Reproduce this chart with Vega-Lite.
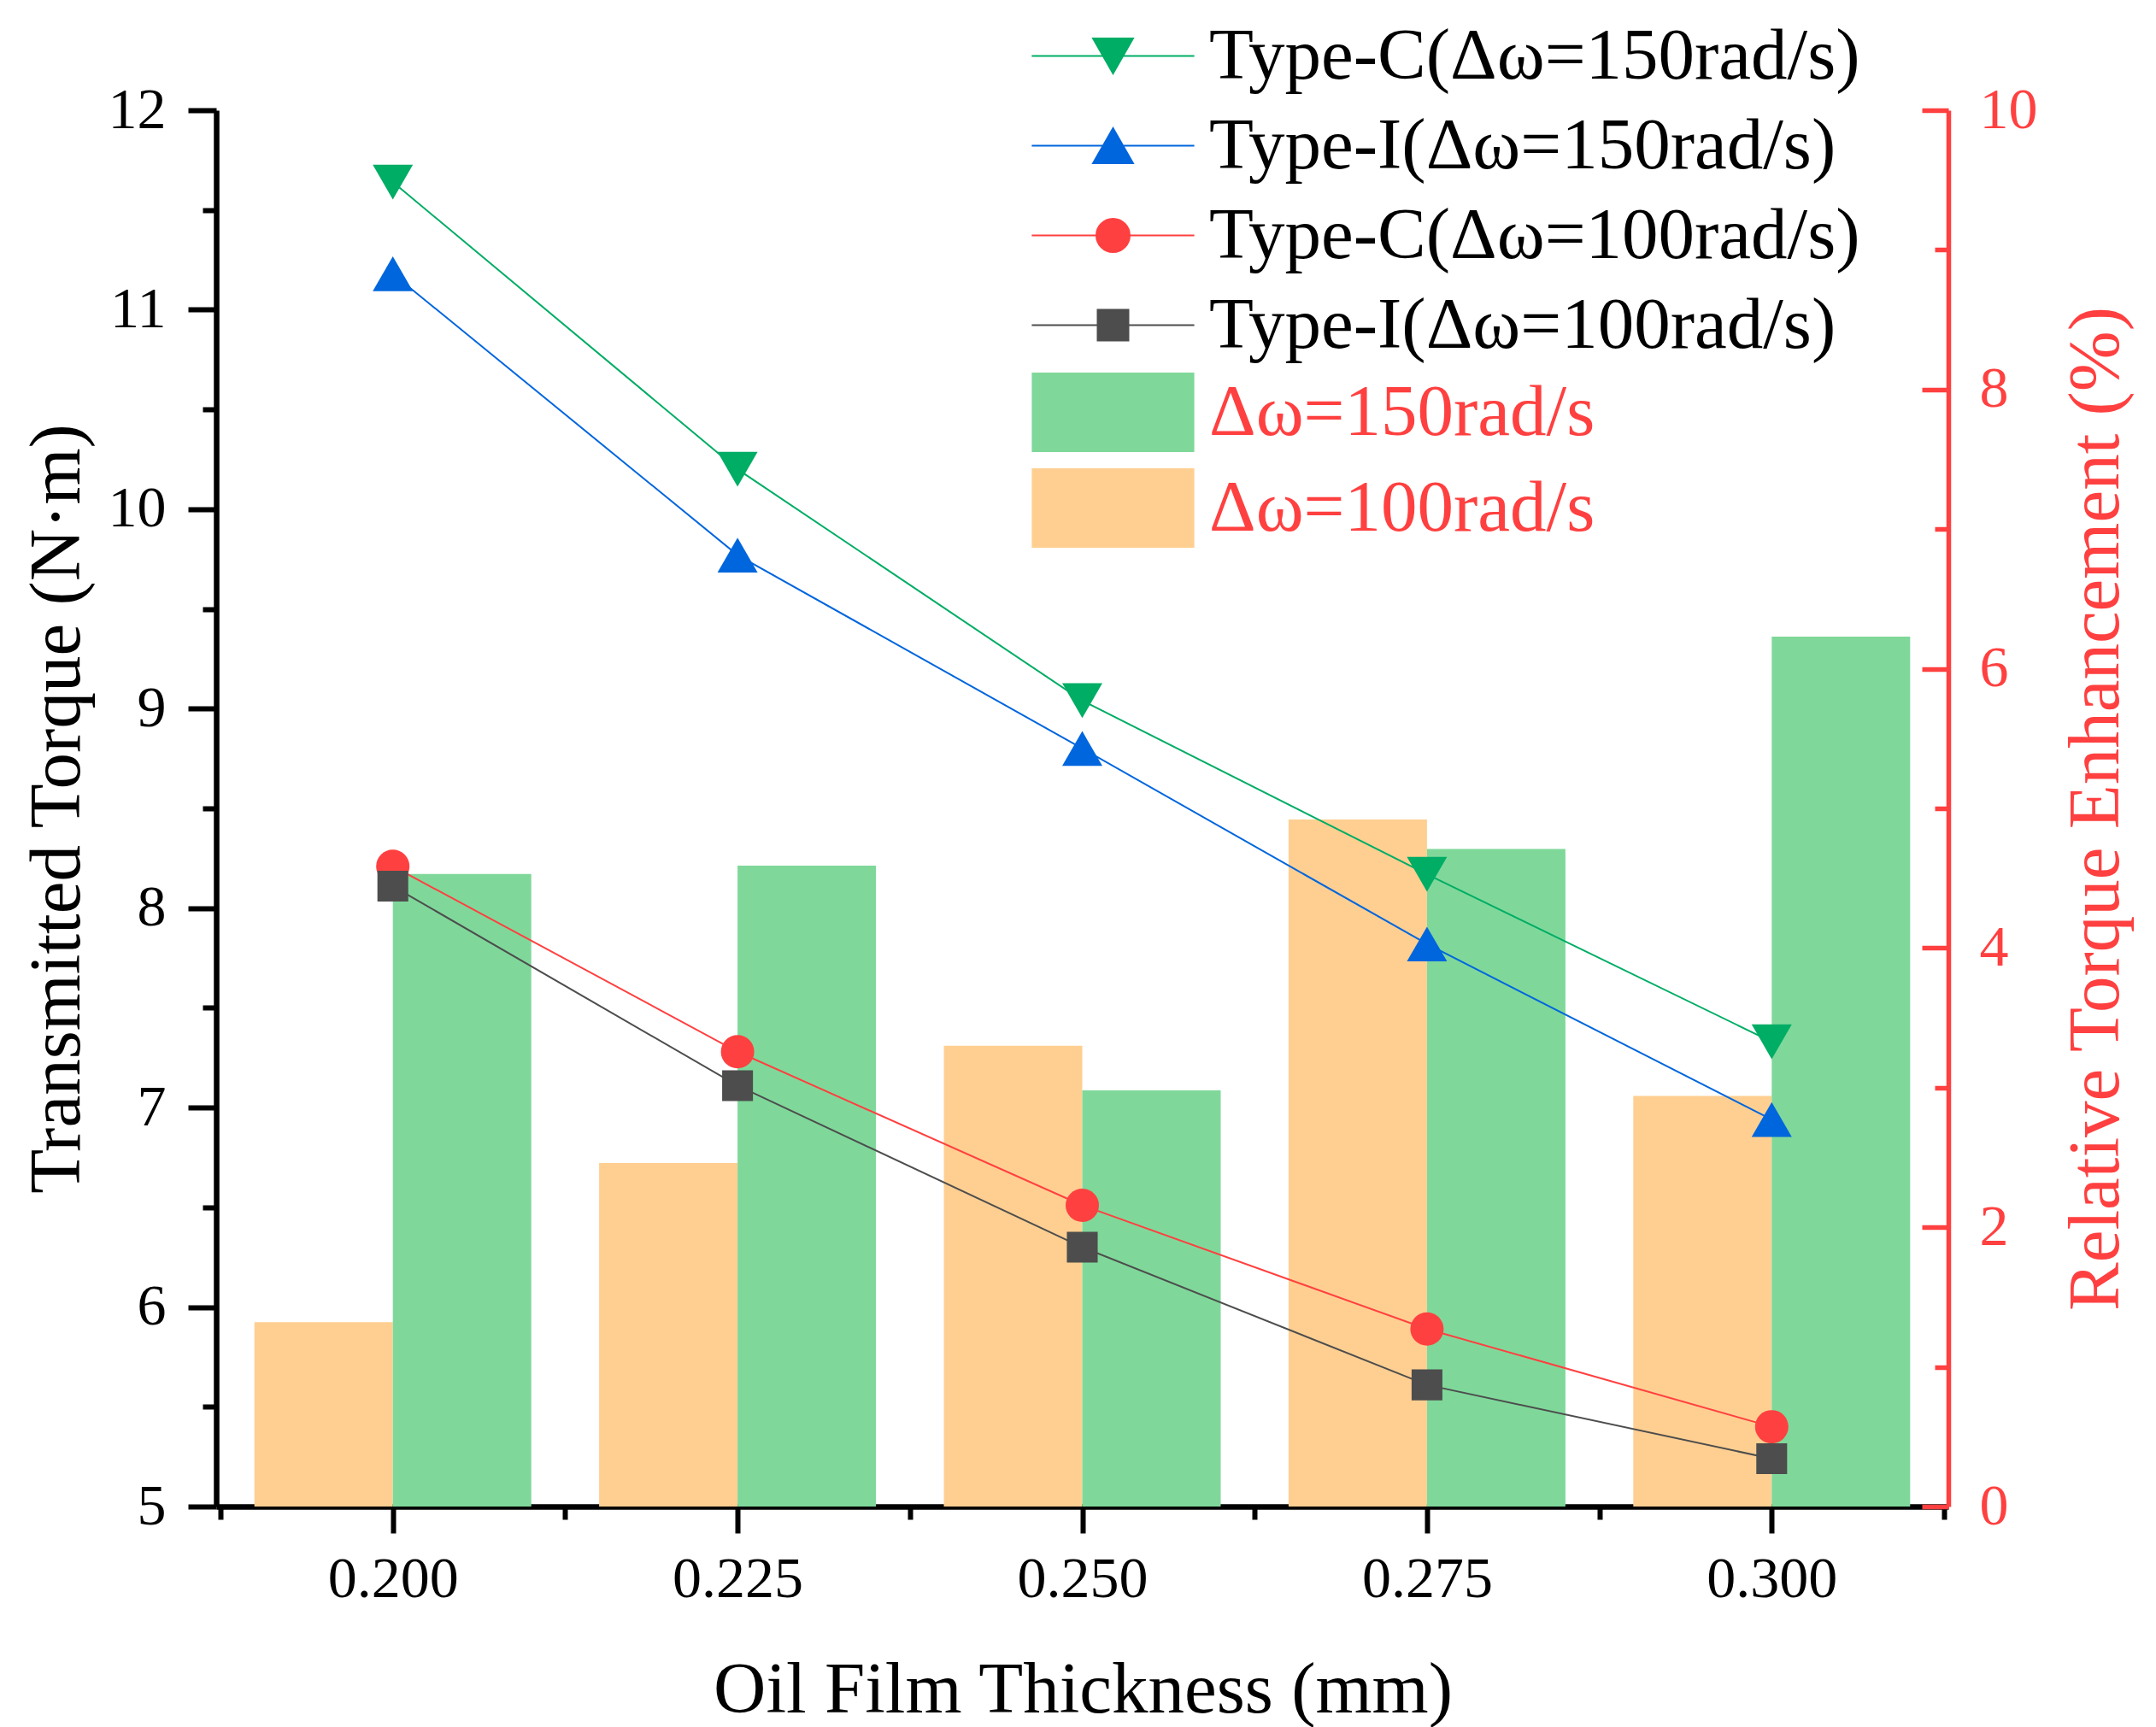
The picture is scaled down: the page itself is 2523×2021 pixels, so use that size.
{
  "$schema": "https://vega.github.io/schema/vega-lite/v6.json",
  "background": "white",
  "autosize": "none",
  "width": 2027,
  "height": 1634,
  "padding": {"left": 253, "top": 129, "right": 243, "bottom": 258},
  "datasets": {
    "bars": [
      {"thickness": 0.2, "speed": "Δω=100rad/s", "enhancement": 1.32},
      {"thickness": 0.225, "speed": "Δω=100rad/s", "enhancement": 2.46},
      {"thickness": 0.25, "speed": "Δω=100rad/s", "enhancement": 3.3},
      {"thickness": 0.275, "speed": "Δω=100rad/s", "enhancement": 4.92},
      {"thickness": 0.3, "speed": "Δω=100rad/s", "enhancement": 2.94},
      {"thickness": 0.2, "speed": "Δω=150rad/s", "enhancement": 4.53},
      {"thickness": 0.225, "speed": "Δω=150rad/s", "enhancement": 4.59},
      {"thickness": 0.25, "speed": "Δω=150rad/s", "enhancement": 2.98},
      {"thickness": 0.275, "speed": "Δω=150rad/s", "enhancement": 4.71},
      {"thickness": 0.3, "speed": "Δω=150rad/s", "enhancement": 6.23}
    ],
    "torque": [
      {"thickness": 0.2, "series": "Type-C(Δω=150rad/s)", "torque": 11.64},
      {"thickness": 0.225, "series": "Type-C(Δω=150rad/s)", "torque": 10.2},
      {"thickness": 0.25, "series": "Type-C(Δω=150rad/s)", "torque": 9.04},
      {"thickness": 0.275, "series": "Type-C(Δω=150rad/s)", "torque": 8.17},
      {"thickness": 0.3, "series": "Type-C(Δω=150rad/s)", "torque": 7.33},
      {"thickness": 0.2, "series": "Type-I(Δω=150rad/s)", "torque": 11.18},
      {"thickness": 0.225, "series": "Type-I(Δω=150rad/s)", "torque": 9.77},
      {"thickness": 0.25, "series": "Type-I(Δω=150rad/s)", "torque": 8.8},
      {"thickness": 0.275, "series": "Type-I(Δω=150rad/s)", "torque": 7.82},
      {"thickness": 0.3, "series": "Type-I(Δω=150rad/s)", "torque": 6.94},
      {"thickness": 0.2, "series": "Type-C(Δω=100rad/s)", "torque": 8.21},
      {"thickness": 0.225, "series": "Type-C(Δω=100rad/s)", "torque": 7.28},
      {"thickness": 0.25, "series": "Type-C(Δω=100rad/s)", "torque": 6.51},
      {"thickness": 0.275, "series": "Type-C(Δω=100rad/s)", "torque": 5.89},
      {"thickness": 0.3, "series": "Type-C(Δω=100rad/s)", "torque": 5.4},
      {"thickness": 0.2, "series": "Type-I(Δω=100rad/s)", "torque": 8.11},
      {"thickness": 0.225, "series": "Type-I(Δω=100rad/s)", "torque": 7.11},
      {"thickness": 0.25, "series": "Type-I(Δω=100rad/s)", "torque": 6.3},
      {"thickness": 0.275, "series": "Type-I(Δω=100rad/s)", "torque": 5.61},
      {"thickness": 0.3, "series": "Type-I(Δω=100rad/s)", "torque": 5.24}
    ]
  },
  "layer": [
    {
      "data": {"name": "bars"},
      "transform": [{"filter": "datum.speed == 'Δω=100rad/s'"}],
      "mark": {"type": "bar", "orient": "vertical", "width": 162, "xOffset": -81},
      "encoding": {
        "x": {
          "field": "thickness", "type": "quantitative",
          "scale": {"domain": [0.1875, 0.3125], "nice": false, "zero": false},
          "axis": {
            "orient": "bottom",
            "title": "Oil Film Thickness (mm)",
            "values": [0.1875, 0.2, 0.2125, 0.225, 0.2375, 0.25, 0.2625, 0.275, 0.2875, 0.3, 0.3125],
            "labelExpr": "round(datum.value*80) % 2 == 1 ? '' : format(datum.value, '.3f')",
            "tickSize": {"condition": {"test": "round(datum.value*80) % 2 == 1", "value": 15}, "value": 31},
            "tickWidth": 6,
            "domainWidth": 6.5,
            "labelPadding": 20,
            "titleX": 1014,
            "titleY": 240,
            "titleBaseline": "alphabetic"
          }
        },
        "y": {
          "field": "enhancement", "type": "quantitative",
          "scale": {"domain": [0, 10], "nice": false},
          "axis": {
            "orient": "right",
            "title": "Relative Torque Enhancement (%)",
            "values": [0, 1, 2, 3, 4, 5, 6, 7, 8, 9, 10],
            "labelExpr": "datum.value % 2 == 1 ? '' : datum.label",
            "tickSize": {"condition": {"test": "datum.value % 2 == 1", "value": -16}, "value": -31},
            "tickWidth": 5.5,
            "domainWidth": 5.5,
            "labelPadding": 67,
            "domainColor": "#FF4040",
            "tickColor": "#FF4040",
            "labelColor": "#FF4040",
            "titleColor": "#FF4040",
            "titleAngle": 270,
            "titleX": 198,
            "titleY": 817,
            "titleAlign": "center",
            "titleBaseline": "alphabetic"
          }
        },
        "fill": {
          "field": "speed", "type": "nominal",
          "scale": {"domain": ["Δω=150rad/s", "Δω=100rad/s"], "range": ["#7FD89A", "#FFCF91"]},
          "legend": {
            "orient": "none",
            "legendX": 1007,
            "legendY": 311,
            "title": null,
            "padding": 0,
            "rowPadding": 19,
            "symbolSize": 3600,
            "labelOffset": 70,
            "labelColor": "#FF4040",
            "labelFontSize": 85,
            "labelFont": "Liberation Serif",
            "labelLimit": 1500,
            "symbolType": "M-3.17,-1.55H3.17V1.55H-3.17Z",
            "symbolStrokeWidth": 0
          }
        }
      }
    },
    {
      "data": {"name": "bars"},
      "transform": [{"filter": "datum.speed == 'Δω=150rad/s'"}],
      "mark": {"type": "bar", "orient": "vertical", "width": 162, "xOffset": 81},
      "encoding": {
        "x": {"field": "thickness", "type": "quantitative"},
        "y": {"field": "enhancement", "type": "quantitative", "scale": {"domain": [0, 10], "nice": false}, "axis": null},
        "fill": {"field": "speed", "type": "nominal"}
      }
    },
    {
      "data": {"name": "torque"},
      "mark": {"type": "line", "strokeWidth": 2},
      "encoding": {
        "x": {"field": "thickness", "type": "quantitative"},
        "y": {
          "field": "torque", "type": "quantitative",
          "scale": {"domain": [5, 12], "nice": false, "zero": false},
          "axis": {
            "orient": "left",
            "title": "Transmitted Torque (N·m)",
            "values": [5, 5.5, 6, 6.5, 7, 7.5, 8, 8.5, 9, 9.5, 10, 10.5, 11, 11.5, 12],
            "labelExpr": "round(datum.value*2) % 2 == 1 ? '' : format(datum.value, 'd')",
            "tickSize": {"condition": {"test": "round(datum.value*2) % 2 == 1", "value": 16}, "value": 33},
            "tickWidth": 6,
            "domainWidth": 6.5,
            "labelPadding": 26,
            "titleAngle": 270,
            "titleX": -161,
            "titleY": 817,
            "titleAlign": "center",
            "titleBaseline": "alphabetic"
          }
        },
        "color": {
          "field": "series", "type": "nominal",
          "scale": {
            "domain": ["Type-C(Δω=150rad/s)", "Type-I(Δω=150rad/s)", "Type-C(Δω=100rad/s)", "Type-I(Δω=100rad/s)"],
            "range": ["#00AD65", "#0066DD", "#FF4040", "#4D4D4D"]
          },
          "legend": {
            "orient": "none",
            "legendX": 1007,
            "legendY": -106,
            "title": null,
            "padding": 0,
            "rowPadding": 19,
            "symbolSize": 3600,
            "symbolOpacity": 1,
            "labelOffset": 70,
            "labelColor": "black",
            "labelFontSize": 85,
            "labelFont": "Liberation Serif",
            "labelLimit": 1500,
            "symbolStrokeWidth": 2
          }
        }
      }
    },
    {
      "data": {"name": "torque"},
      "mark": {"type": "point", "filled": true, "opacity": 0},
      "encoding": {
        "x": {"field": "thickness", "type": "quantitative"},
        "y": {"field": "torque", "type": "quantitative", "scale": {"domain": [5, 12], "nice": false, "zero": false}, "axis": null},
        "color": {"field": "series", "type": "nominal", "legend": null},
        "shape": {
          "field": "series", "type": "nominal",
          "scale": {
            "domain": ["Type-C(Δω=150rad/s)", "Type-I(Δω=150rad/s)", "Type-C(Δω=100rad/s)", "Type-I(Δω=100rad/s)"],
            "range": [
              "M-3.17,0H3.17M-0.78,-0.68H0.78L0,0.68Z",
              "M-3.17,0H3.17M0,-0.68L0.78,0.68H-0.78Z",
              "M-3.17,0H3.17M0.65,0A0.65,0.65,0,1,1,-0.65,0A0.65,0.65,0,1,1,0.65,0Z",
              "M-3.17,0H3.17M-0.6,-0.6H0.6V0.6H-0.6Z"
            ]
          },
          "legend": null
        }
      }
    },
    {
      "data": {"name": "torque"},
      "transform": [{"filter": "datum.series == 'Type-C(Δω=150rad/s)'"}],
      "mark": {"type": "point", "filled": true, "opacity": 1, "strokeWidth": 0, "shape": "triangle-down", "size": 2209},
      "encoding": {
        "x": {"field": "thickness", "type": "quantitative"},
        "y": {"field": "torque", "type": "quantitative", "scale": {"domain": [5, 12], "nice": false, "zero": false}, "axis": null},
        "color": {"field": "series", "type": "nominal", "legend": null}
      }
    },
    {
      "data": {"name": "torque"},
      "transform": [{"filter": "datum.series == 'Type-I(Δω=150rad/s)'"}],
      "mark": {"type": "point", "filled": true, "opacity": 1, "strokeWidth": 0, "shape": "triangle-up", "size": 2209},
      "encoding": {
        "x": {"field": "thickness", "type": "quantitative"},
        "y": {"field": "torque", "type": "quantitative", "scale": {"domain": [5, 12], "nice": false, "zero": false}, "axis": null},
        "color": {"field": "series", "type": "nominal", "legend": null}
      }
    },
    {
      "data": {"name": "torque"},
      "transform": [{"filter": "datum.series == 'Type-C(Δω=100rad/s)'"}],
      "mark": {"type": "point", "filled": true, "opacity": 1, "strokeWidth": 0, "shape": "circle", "size": 1521},
      "encoding": {
        "x": {"field": "thickness", "type": "quantitative"},
        "y": {"field": "torque", "type": "quantitative", "scale": {"domain": [5, 12], "nice": false, "zero": false}, "axis": null},
        "color": {"field": "series", "type": "nominal", "legend": null}
      }
    },
    {
      "data": {"name": "torque"},
      "transform": [{"filter": "datum.series == 'Type-I(Δω=100rad/s)'"}],
      "mark": {"type": "point", "filled": true, "opacity": 1, "strokeWidth": 0, "shape": "square", "size": 1300},
      "encoding": {
        "x": {"field": "thickness", "type": "quantitative"},
        "y": {"field": "torque", "type": "quantitative", "scale": {"domain": [5, 12], "nice": false, "zero": false}, "axis": null},
        "color": {"field": "series", "type": "nominal", "legend": null}
      }
    }
  ],
  "resolve": {"scale": {"y": "independent"}},
  "config": {
    "view": {"stroke": null},
    "legend": {"symbolOpacity": 1},
    "axis": {
      "grid": false,
      "domainColor": "black",
      "domainWidth": 6.5,
      "tickColor": "black",
      "tickWidth": 6,
      "labelFont": "Liberation Serif",
      "labelFontSize": 68,
      "labelColor": "black",
      "labelFlush": false,
      "labelOverlap": false,
      "titleFont": "Liberation Serif",
      "titleFontSize": 85,
      "titleFontWeight": "normal",
      "titleColor": "black"
    }
  }
}
